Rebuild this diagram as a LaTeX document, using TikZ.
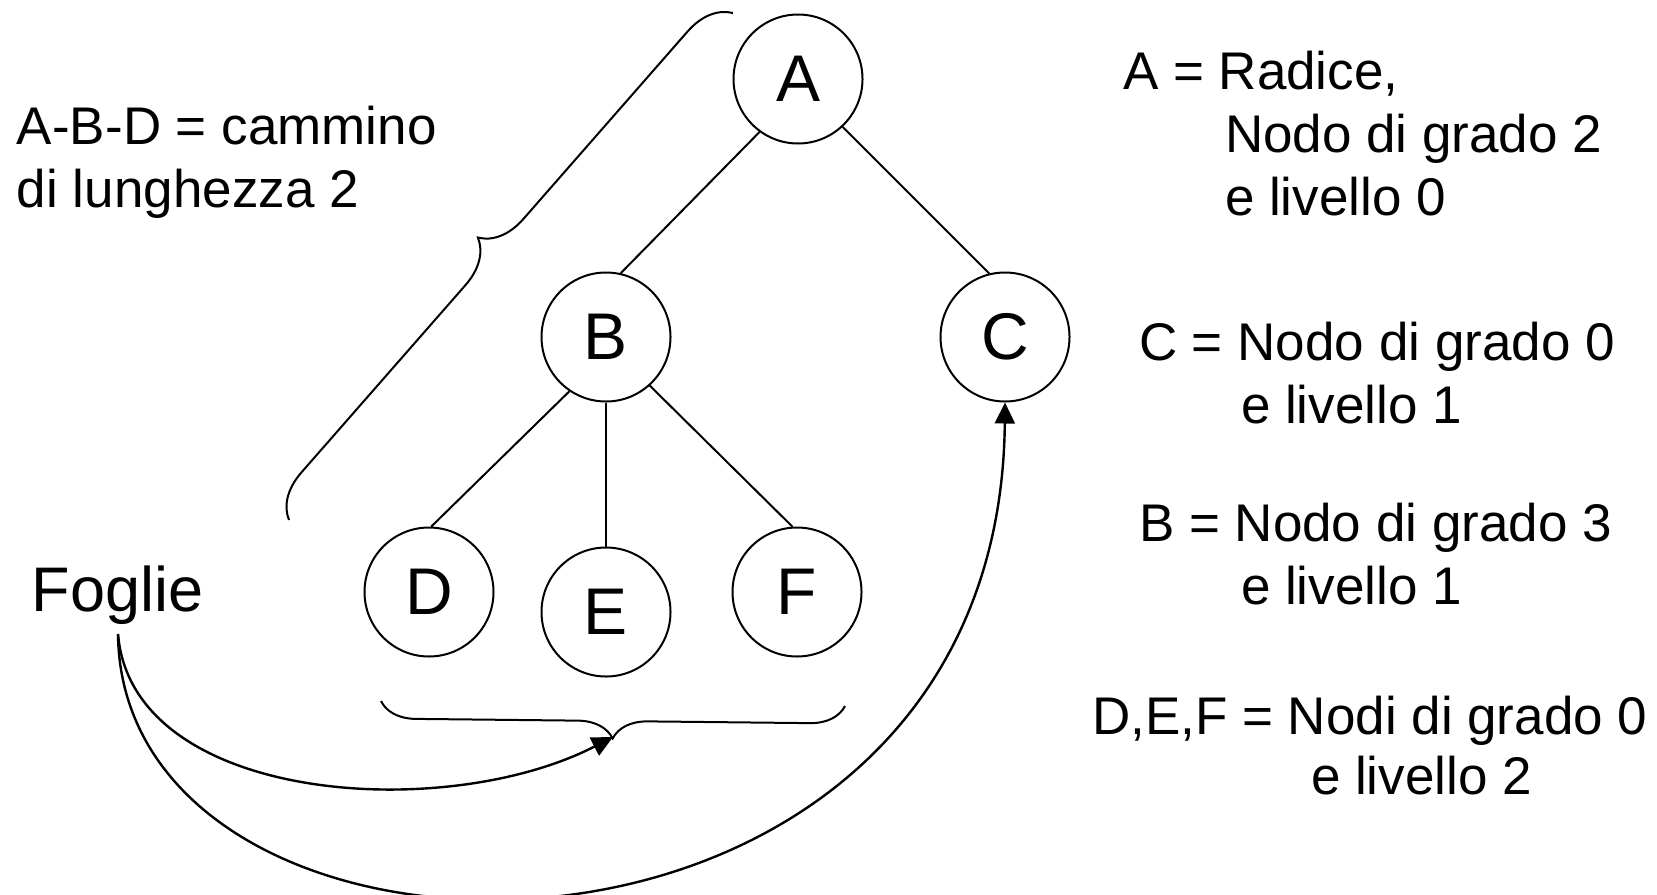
\documentclass[tikz,border=0pt]{standalone}
\usepackage{fontspec}
\setmainfont{Liberation Sans}
\usetikzlibrary{arrows.meta,decorations.pathreplacing}
\begin{document}
\begin{tikzpicture}[x=0.5pt,y=-0.5pt,line width=1pt,
  treenode/.style={draw,circle,minimum size=64.5pt,inner sep=0pt,font=\fontsize{33}{33}\selectfont},
  note/.style={anchor=base west,inner sep=0pt,font=\fontsize{26.5}{31.5}\selectfont},
  bignote/.style={anchor=base west,inner sep=0pt,font=\fontsize{31.5}{31.5}\selectfont},
  pointer/.style={line width=1.2pt,-{Triangle[length=10.5pt,width=10pt]}},
  curly/.style={decorate,decoration={brace,amplitude=#1}}]
\useasboundingbox (0,0) rectangle (1657,894);

% tree
\node[treenode] (A) at (798,79) {A};
\node[treenode] (B) at (606,337) {B};
\node[treenode] (C) at (1005,337) {C};
\node[treenode] (D) at (429,592) {D};
\node[treenode] (E) at (606,612) {E};
\node[treenode] (F) at (797,592) {F};
\draw (A.234) -- (B.77);
\draw (A.313) -- (C.104);
\draw (B.236) -- (D.88);
\draw (B.south) -- (E.north);
\draw (B.312) -- (F.94);

% path A-B-D and its brace
\node[note] (p1) at (16,144) {A-B-D = cammino};
\node[note] (p2) at (16,207) {di lunghezza 2};
\coordinate (pb1) at (289,520);
\coordinate (pb2) at (733,13);
\draw[curly=22pt] (pb1) -- (pb2);

% leaves
\node[bignote] (fo) at (31,611) {Foglie};
\coordinate (fs) at (118,634);
\coordinate (lb1) at (845,706);
\coordinate (lb2) at (381,701);
\coordinate (bt) at (613,737);
\draw[curly=17.5pt] (lb1) -- (lb2);
\draw[pointer] (fs) .. controls (132,803) and (444,824) .. (bt);
\draw[pointer] (fs) .. controls (122,1015) and (999,1022) .. (C.south);

% descriptions
\node[note] (ra1) at (1122,89) {A = Radice,};
\node[note] (ra2) at (1224,152) {Nodo di grado 2};
\node[note] (ra3) at (1224,215) {e livello 0};
\node[note] (rc1) at (1138,360) {C = Nodo di grado 0};
\node[note] (rc2) at (1240,423) {e livello 1};
\node[note] (rb1) at (1138,541) {B = Nodo di grado 3};
\node[note] (rb2) at (1240,604) {e livello 1};
\node[note] (rd1) at (1091,734) {D,E,F = Nodi di grado 0};
\node[note] (rd2) at (1310,794) {e livello 2};
\end{tikzpicture}
\end{document}
